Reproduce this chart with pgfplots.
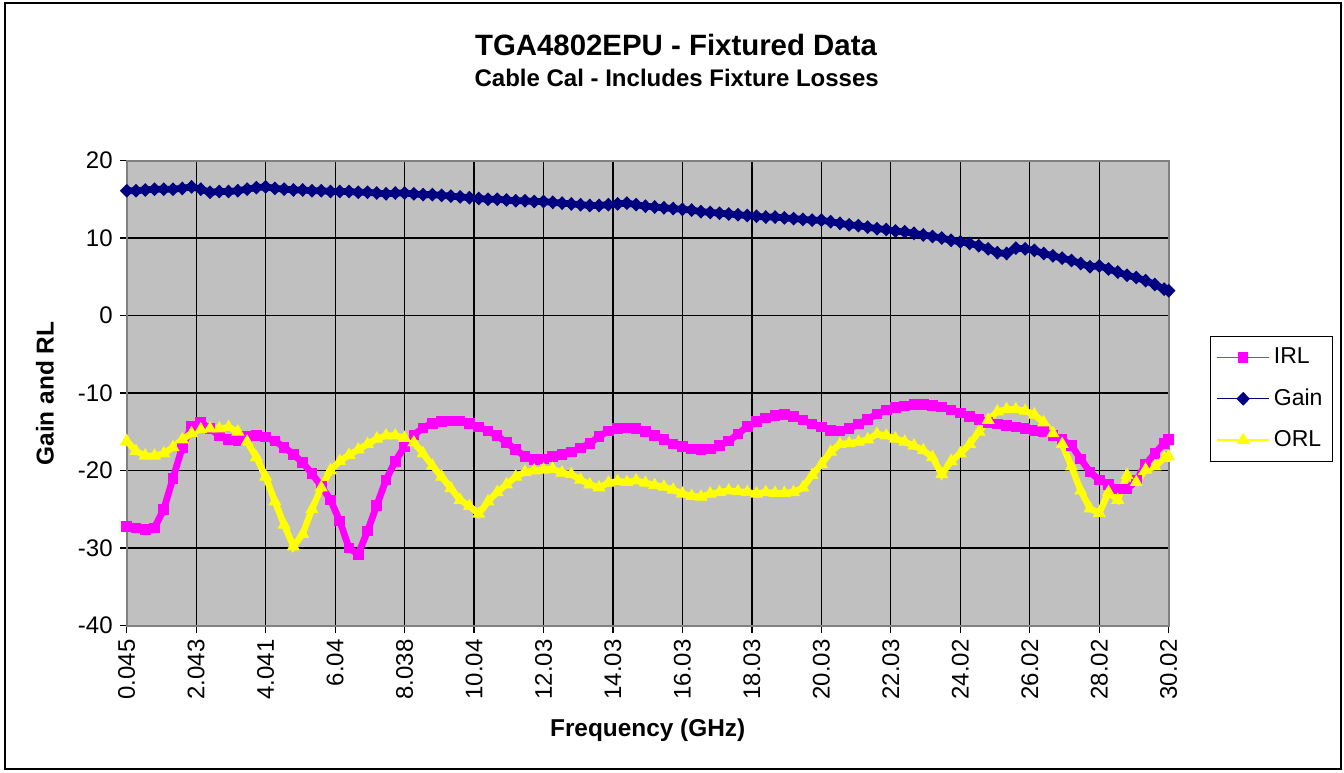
\documentclass[border=0pt]{standalone}
\usepackage{pgfplots}
\pgfplotsset{compat=1.18}
\usepackage{fontspec}
\setmainfont{Liberation Sans}
\definecolor{irl}{HTML}{FF00FF}
\definecolor{gain}{HTML}{000080}
\definecolor{orl}{HTML}{FFFF00}
\definecolor{plotbg}{HTML}{C0C0C0}
\definecolor{framegray}{HTML}{808080}
\begin{document}
\begin{tikzpicture}
\useasboundingbox (-63.35pt,-73.25pt) rectangle (608.65pt,312.75pt);
\draw[black, line width=1pt] (-60.6pt,-71.75pt) rectangle (607.15pt,311pt);
\begin{axis}[
  at={(0pt,0pt)}, anchor=south west,
  scale only axis,
  width=521pt, height=232.5pt,
  xmin=0, xmax=225, ymin=-40, ymax=20,
  xtick={0,15,...,225},
  xticklabels={0.045,2.043,4.041,6.04,8.038,10.04,12.03,14.03,16.03,18.03,20.03,22.03,24.02,26.02,28.02,30.02},
  ytick={-40,-30,-20,-10,0,10,20},
  yticklabels={-40,-30,-20,-10,0,10,20},
  xtick pos=left, ytick pos=left,
  tick align=outside,
  major tick length=3.5pt,
  tick style={black, line width=0.6pt},
  xticklabel style={rotate=90, anchor=east, font=\fontsize{12}{14}\selectfont},
  yticklabel style={font=\fontsize{12}{14}\selectfont},
  grid=major,
  major grid style={black, line width=0.6pt},
  axis background/.style={fill=plotbg},
  axis line style={framegray, line width=1pt},
  legend style={at={(1.0397,0.6232)}, anchor=north west, draw=black, fill=white,
    font=\fontsize{11.5}{13}\selectfont, row sep=7pt, inner xsep=3pt, inner ysep=4pt,
    cells={anchor=west}},
  legend image code/.code={\draw[mark repeat=2,mark phase=2,#1, line width=0.7pt] plot coordinates {(0pt,0pt) (13pt,0pt) (26pt,0pt)};},
  clip=false,
]
\addplot[irl, line width=3.4pt, mark=square*, mark size=2.4pt, mark options={solid, fill=irl, draw=irl, line width=0.5pt}] coordinates {
(0,-27.2)(2,-27.4)(4,-27.6)(6,-27.4)(8,-25.0)(10,-21.0)(12,-17.0)(14,-14.3)(16,-13.8)(18,-14.6)
(20,-15.5)(22,-16.0)(24,-16.1)(26,-15.6)(28,-15.5)(30,-15.7)(32,-16.2)(34,-17.0)(36,-17.9)(38,-19.0)
(40,-20.4)(42,-22.0)(44,-23.8)(46,-26.5)(48,-30.0)(50,-30.8)(52,-27.8)(54,-24.5)(56,-21.2)(58,-18.8)
(60,-16.9)(62,-15.4)(64,-14.5)(66,-13.9)(68,-13.7)(70,-13.6)(72,-13.6)(74,-13.9)(76,-14.4)(78,-14.9)
(80,-15.5)(82,-16.4)(84,-17.3)(86,-18.2)(88,-18.6)(90,-18.5)(92,-18.2)(94,-17.9)(96,-17.6)(98,-17.1)
(100,-16.5)(102,-15.6)(104,-14.9)(106,-14.6)(108,-14.5)(110,-14.6)(112,-15.0)(114,-15.5)(116,-16.0)(118,-16.6)
(120,-16.9)(122,-17.2)(124,-17.3)(126,-17.2)(128,-16.8)(130,-16.2)(132,-15.3)(134,-14.3)(136,-13.7)(138,-13.2)
(140,-12.9)(142,-12.8)(144,-13.0)(146,-13.5)(148,-14.0)(150,-14.4)(152,-14.8)(154,-14.9)(156,-14.6)(158,-14.0)
(160,-13.4)(162,-12.7)(164,-12.2)(166,-11.9)(168,-11.7)(170,-11.5)(172,-11.5)(174,-11.6)(176,-11.8)(178,-12.2)
(180,-12.6)(182,-13.0)(184,-13.4)(186,-13.8)(188,-14.0)(190,-14.2)(192,-14.4)(194,-14.6)(196,-14.8)(198,-15.0)
(200,-15.5)(202,-16.0)(204,-16.8)(206,-18.5)(208,-20.2)(210,-21.2)(212,-21.8)(214,-22.4)(216,-22.4)(218,-21.3)
(220,-19.2)(222,-17.8)(224,-16.5)(225,-16.0)
};
\addlegendentry{IRL}
\addplot[gain, line width=3.4pt, mark=diamond*, mark size=3.1pt, mark options={solid, fill=gain, draw=gain, xscale=1.3, line width=0.5pt}] coordinates {
(0,16.1)(2,16.1)(4,16.2)(6,16.3)(8,16.3)(10,16.3)(12,16.4)(14,16.6)(16,16.3)(18,15.9)
(20,16.0)(22,16.0)(24,16.1)(26,16.3)(28,16.5)(30,16.6)(32,16.4)(34,16.3)(36,16.2)(38,16.2)
(40,16.1)(42,16.1)(44,16.0)(46,16.0)(48,16.0)(50,15.9)(52,15.9)(54,15.8)(56,15.7)(58,15.8)
(60,15.8)(62,15.7)(64,15.6)(66,15.6)(68,15.5)(70,15.4)(72,15.3)(74,15.2)(76,15.1)(78,15.0)
(80,15.0)(82,14.9)(84,14.8)(86,14.8)(88,14.7)(90,14.7)(92,14.6)(94,14.5)(96,14.4)(98,14.3)
(100,14.2)(102,14.2)(104,14.3)(106,14.4)(108,14.5)(110,14.3)(112,14.1)(114,14.0)(116,13.9)(118,13.8)
(120,13.7)(122,13.6)(124,13.4)(126,13.3)(128,13.2)(130,13.1)(132,13.0)(134,12.9)(136,12.8)(138,12.7)
(140,12.7)(142,12.6)(144,12.5)(146,12.4)(148,12.3)(150,12.3)(152,12.1)(154,11.9)(156,11.7)(158,11.6)
(160,11.4)(162,11.2)(164,11.1)(166,10.9)(168,10.8)(170,10.6)(172,10.4)(174,10.2)(176,10.0)(178,9.7)
(180,9.5)(182,9.3)(184,9.0)(186,8.6)(188,8.1)(190,8.0)(192,8.7)(194,8.6)(196,8.4)(198,8.0)
(200,7.7)(202,7.4)(204,7.1)(206,6.7)(208,6.3)(210,6.4)(212,6.0)(214,5.6)(216,5.2)(218,4.9)
(220,4.5)(222,4.0)(224,3.4)(225,3.2)
};
\addlegendentry{Gain}
\addplot[orl, line width=3.2pt, mark=triangle*, mark size=3.3pt, mark options={solid, fill=orl, draw=orl, line width=0.5pt}] coordinates {
(0,-16.2)(2,-17.5)(4,-18.1)(6,-18.1)(8,-17.8)(10,-17.0)(12,-16.0)(14,-15.2)(16,-14.7)(18,-14.6)
(20,-14.6)(22,-14.4)(24,-15.0)(26,-16.3)(28,-18.3)(30,-20.8)(32,-24.0)(34,-27.0)(36,-29.8)(38,-28.2)
(40,-25.0)(42,-22.2)(44,-20.0)(46,-18.8)(48,-18.0)(50,-17.3)(52,-16.6)(54,-15.9)(56,-15.5)(58,-15.5)
(60,-15.8)(62,-16.4)(64,-17.8)(66,-19.4)(68,-20.8)(70,-22.3)(72,-23.8)(74,-24.6)(76,-25.6)(78,-24.0)
(80,-22.8)(82,-21.8)(84,-20.8)(86,-20.2)(88,-20.0)(90,-19.9)(92,-19.8)(94,-20.3)(96,-20.5)(98,-21.2)
(100,-21.8)(102,-22.2)(104,-21.6)(106,-21.4)(108,-21.5)(110,-21.3)(112,-21.6)(114,-21.9)(116,-22.1)(118,-22.5)
(120,-23.0)(122,-23.3)(124,-23.4)(126,-23.0)(128,-22.8)(130,-22.6)(132,-22.7)(134,-22.8)(136,-23.0)(138,-22.8)
(140,-22.9)(142,-22.9)(144,-22.8)(146,-22.2)(148,-20.6)(150,-19.2)(152,-17.6)(154,-16.6)(156,-16.5)(158,-16.3)
(160,-16.0)(162,-15.3)(164,-15.5)(166,-15.9)(168,-16.3)(170,-16.8)(172,-17.4)(174,-18.3)(176,-20.5)(178,-18.8)
(180,-17.8)(182,-16.6)(184,-15.0)(186,-13.5)(188,-12.4)(190,-12.1)(192,-12.1)(194,-12.3)(196,-12.8)(198,-13.8)
(200,-15.2)(202,-16.6)(204,-19.5)(206,-22.6)(208,-24.9)(210,-25.5)(212,-22.8)(214,-23.8)(216,-20.6)(218,-21.5)
(220,-19.9)(222,-19.5)(224,-18.4)(225,-18.2)
};
\addlegendentry{ORL}
\end{axis}
\node[font=\bfseries\fontsize{14.7}{17}\selectfont] at (274.65pt,290.25pt) {TGA4802EPU - Fixtured Data};
\node[font=\bfseries\fontsize{12}{14}\selectfont] at (275pt,273.75pt) {Cable Cal - Includes Fixture Losses};
\node[font=\bfseries\fontsize{12.2}{14}\selectfont] at (260.5pt,-52.25pt) {Frequency (GHz)};
\node[font=\bfseries\fontsize{12.2}{14}\selectfont, rotate=90] at (-40.85pt,116pt) {Gain and RL};
\end{tikzpicture}
\end{document}
